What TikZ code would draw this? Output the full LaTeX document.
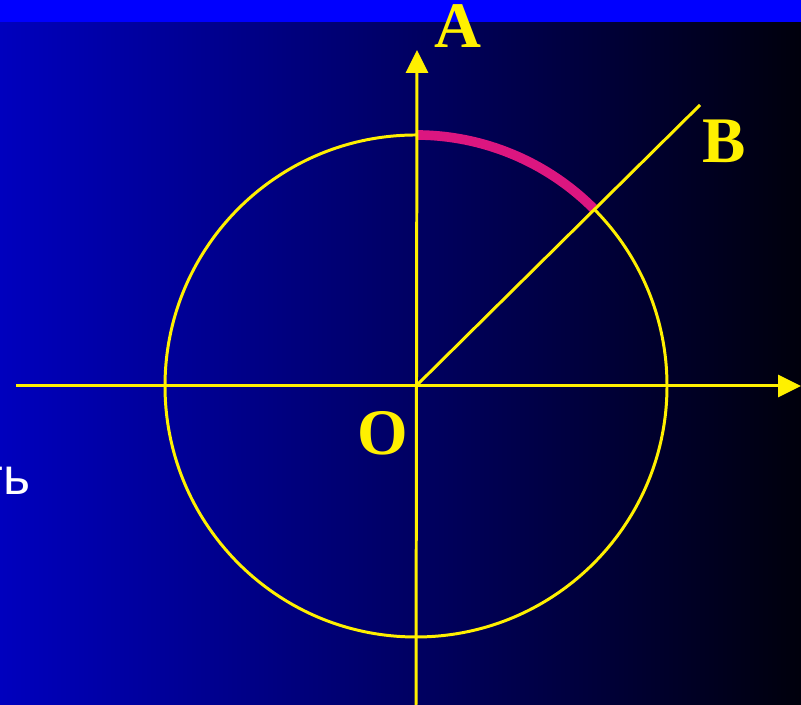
\documentclass[tikz,border=0pt]{standalone}
\usepackage{fontspec}
\setmainfont{Liberation Serif}
\newfontfamily\labelsans{Liberation Sans}
\usetikzlibrary{arrows.meta}
\definecolor{bandblue}{RGB}{0,0,255}
\definecolor{bgleft}{RGB}{0,0,190}
\definecolor{bgright}{RGB}{0,0,12}
\definecolor{axisyellow}{RGB}{255,240,0}
\definecolor{arcpink}{RGB}{220,22,128}

\begin{document}
\begin{tikzpicture}[x=0.02cm, y=0.02cm,
	every node/.style={font=\fontsize{37}{40}\selectfont\bfseries, text=axisyellow, inner sep=0pt},
	>={Triangle[length=0.46cm, width=0.44cm]},
	axis/.style={draw=axisyellow, line width=1.7pt}]
	\useasboundingbox (0,0) rectangle (801,705);
	\shade[left color=bgleft, right color=bgright] (0,0) rectangle (801,683);
	\fill[bandblue] (0,683) rectangle (801,705);
	% points
	\coordinate (O) at (416,319);
	\coordinate (xl) at (16,319);
	\coordinate (xr) at (801,319);
	\coordinate (yb) at (416,0);
	\coordinate (yt) at (417,655);
	\coordinate (Bend) at (700,600);
	% circle and arc AB
	\draw[axis] (O) circle[radius=251];
	\draw[arcpink, line width=5.5pt] ([shift={(90:251)}]O) arc[start angle=90, end angle=45, radius=251];
	% axes
	\draw[axis, ->] (xl) -- (xr);
	\draw[axis, ->] (yb) -- (yt);
	\draw[axis] (O) -- (Bend);
	% labels
	\node[anchor=base] (lA) at (458,657) {A};
	\node[anchor=base] (lB) at (724,542) {B};
	\node[anchor=base] (lO) at (383,250) {O};
	\node[anchor=base east, text=white, font=\labelsans\fontsize{29.5}{32}\selectfont] (word) at (31,210) {ть};
\end{tikzpicture}
\end{document}
